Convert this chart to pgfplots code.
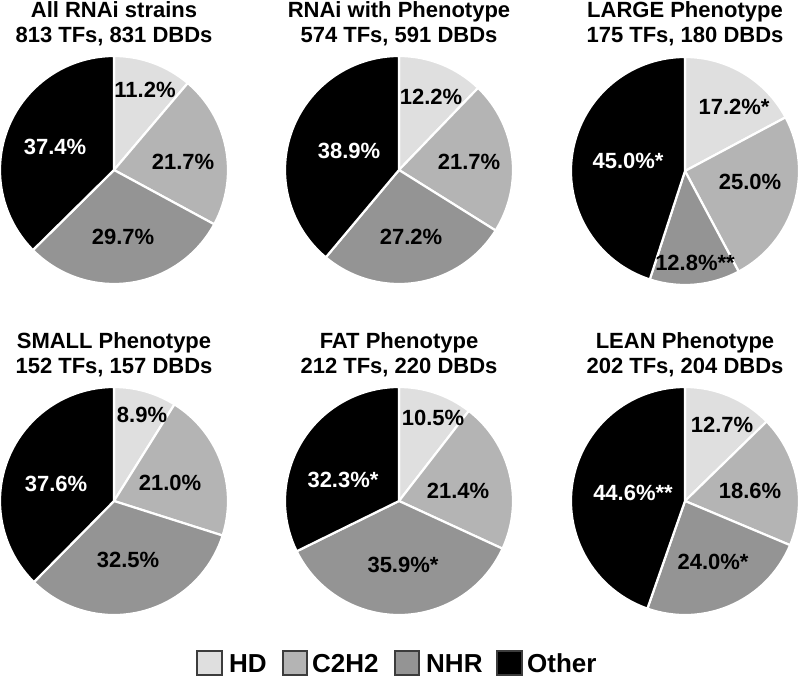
\documentclass[border=0pt]{standalone}
\usepackage{pgfplots}
\pgfplotsset{compat=1.18}
\usepackage{fontspec}
\setmainfont{Liberation Sans}
\definecolor{cHD}{RGB}{223,223,223}
\definecolor{cC2}{RGB}{180,180,180}
\definecolor{cNHR}{RGB}{148,148,148}
\definecolor{cOther}{RGB}{0,0,0}
\definecolor{cEdge}{RGB}{60,60,60}
% one slice: colour, cx, cy, start angle, end angle
\newcommand{\pieslice}[5]{%
  \fill[#1, draw=white, line width=2.2pt, line join=round]
    (axis cs:#2,#3) -- ++({#4}:114pt) arc[start angle={#4}, end angle={#5}, radius=114pt] -- cycle;}
% one pie: cx, cy, HD, C2H2, NHR, Other (percent)
\newcommand{\pie}[6]{%
  \pieslice{cHD}{#1}{#2}{90}{90-(#3)/(#3+#4+#5+#6)*360}%
  \pieslice{cC2}{#1}{#2}{90-(#3)/(#3+#4+#5+#6)*360}{90-(#3+#4)/(#3+#4+#5+#6)*360}%
  \pieslice{cNHR}{#1}{#2}{90-(#3+#4)/(#3+#4+#5+#6)*360}{90-(#3+#4+#5)/(#3+#4+#5+#6)*360}%
  \pieslice{cOther}{#1}{#2}{90-(#3+#4+#5)/(#3+#4+#5+#6)*360}{-270}}
\begin{document}
\begin{tikzpicture}
\begin{axis}[width=800pt, height=677pt, scale only axis,
  xmin=0, xmax=800, ymin=0, ymax=677, y dir=reverse,
  hide axis, clip=false]
\tikzset{
  ttl/.style={font=\fontsize{22}{25}\selectfont\bfseries, align=center, anchor=north, inner sep=0pt},
  lbl/.style={font=\fontsize{22}{25}\selectfont\bfseries, inner sep=0pt, text=black},
  wlbl/.style={lbl, text=white},
  leg/.style={font=\fontsize{26}{28}\selectfont\bfseries, inner sep=0pt, anchor=base west}
}
% pies: centre x, centre y, HD, C2H2, NHR, Other
\pie{114}{170}{11.2}{21.7}{29.7}{37.4}
\pie{399}{170}{12.2}{21.7}{27.2}{38.9}
\pie{685}{171}{17.2}{25.0}{12.8}{45.0}
\pie{114}{501}{8.9}{21.0}{32.5}{37.6}
\pie{399}{501}{10.5}{21.4}{35.9}{32.3}
\pie{685}{501}{12.7}{18.6}{24.0}{44.6}
% titles
\node[ttl] at (axis cs:114,1) {All RNAi strains\\813 TFs, 831 DBDs};
\node[ttl] at (axis cs:399,1) {RNAi with Phenotype\\574 TFs, 591 DBDs};
\node[ttl] at (axis cs:685,1) {LARGE Phenotype\\175 TFs, 180 DBDs};
\node[ttl] at (axis cs:114,332) {SMALL Phenotype\\152 TFs, 157 DBDs};
\node[ttl] at (axis cs:399,332) {FAT Phenotype\\212 TFs, 220 DBDs};
\node[ttl] at (axis cs:685,332) {LEAN Phenotype\\202 TFs, 204 DBDs};
% slice labels
\node[lbl] at (axis cs:145,90) {11.2\%};
\node[lbl] at (axis cs:183,162) {21.7\%};
\node[lbl] at (axis cs:123,237) {29.7\%};
\node[wlbl] at (axis cs:55,147) {37.4\%};
\node[lbl] at (axis cs:431,97) {12.2\%};
\node[lbl] at (axis cs:469,162) {21.7\%};
\node[lbl] at (axis cs:411,237) {27.2\%};
\node[wlbl] at (axis cs:349,151) {38.9\%};
\node[lbl] at (axis cs:734,107) {17.2\%*};
\node[lbl] at (axis cs:750,182) {25.0\%};
\node[lbl] at (axis cs:695,263) {12.8\%**};
\node[wlbl] at (axis cs:628,161) {45.0\%*};
\node[lbl] at (axis cs:142,415) {8.9\%};
\node[lbl] at (axis cs:170,483) {21.0\%};
\node[lbl] at (axis cs:128,560) {32.5\%};
\node[wlbl] at (axis cs:56,484) {37.6\%};
\node[lbl] at (axis cs:433,418) {10.5\%};
\node[lbl] at (axis cs:458,491) {21.4\%};
\node[lbl] at (axis cs:403,565) {35.9\%*};
\node[wlbl] at (axis cs:343,480) {32.3\%*};
\node[lbl] at (axis cs:722,425) {12.7\%};
\node[lbl] at (axis cs:750,491) {18.6\%};
\node[lbl] at (axis cs:713,562) {24.0\%*};
\node[wlbl] at (axis cs:633,493) {44.6\%**};
% legend
\draw[fill=cHD, draw=cEdge, line width=1.5pt] (axis cs:197,651) rectangle (axis cs:222,675);
\node[leg] at (axis cs:229,672) {HD};
\draw[fill=cC2, draw=cEdge, line width=1.5pt] (axis cs:283,651) rectangle (axis cs:307,675);
\node[leg] at (axis cs:312,672) {C2H2};
\draw[fill=cNHR, draw=cEdge, line width=1.5pt] (axis cs:395,651) rectangle (axis cs:419,675);
\node[leg] at (axis cs:426,672) {NHR};
\draw[fill=cOther, draw=cEdge, line width=1.5pt] (axis cs:497,651) rectangle (axis cs:522,675);
\node[leg] at (axis cs:527,672) {Other};
\end{axis}
\pgfresetboundingbox
\path (current axis.south west) rectangle (current axis.north east);
\end{tikzpicture}
\end{document}
